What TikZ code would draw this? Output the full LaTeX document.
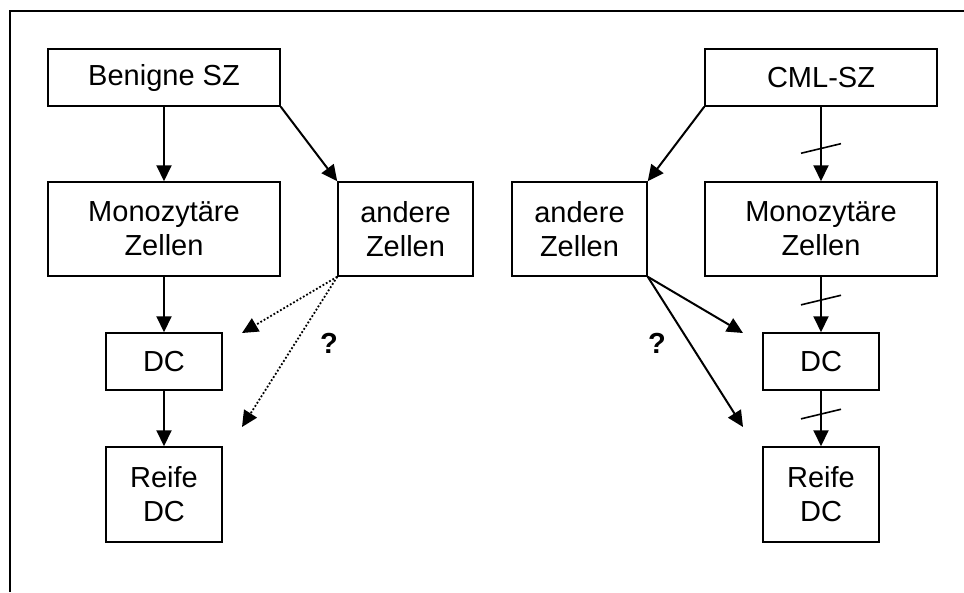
\documentclass[tikz,border=0pt]{standalone}
\usepackage{fontspec}
\setmainfont{Liberation Sans}
\usetikzlibrary{arrows.meta,calc}
\begin{document}
\begin{tikzpicture}[x=1pt,y=-1pt,
  box/.style={draw,line width=1.5pt,align=center,inner sep=0pt,
    font=\fontsize{29}{34}\selectfont},
  arr/.style={line width=2pt,-{Triangle[length=16pt,width=15pt]}},
  dotarr/.style={line width=1.8pt,dash pattern=on 1.8pt off 2pt,-{Triangle[length=16pt,width=15pt]}},
  tickmark/.style={line width=1.6pt},
  qmark/.style={font=\fontsize{29}{34}\selectfont\bfseries}]
\useasboundingbox (0,0) rectangle (964,592);
\draw[line width=2pt] (10,592) -- (10,11) -- (964,11);
% left side
\node[box,minimum width=232pt,minimum height=57pt] (b1) at (164,77.5) {Benigne SZ};
\node[box,minimum width=232pt,minimum height=94pt] (m1) at (164,229) {Monozytäre\\Zellen};
\node[box,minimum width=135pt,minimum height=94pt] (a1) at (405.5,229) {andere\\Zellen};
\node[box,minimum width=116pt,minimum height=57pt] (d1) at (164,361.5) {DC};
\node[box,minimum width=116pt,minimum height=95pt] (r1) at (164,494.5) {Reife\\DC};
\coordinate (e1) at (242,333);
\coordinate (e2) at (242,427);
\draw[arr] (b1) -- (m1);
\draw[arr] (b1.south east) -- (a1.north west);
\draw[arr] (m1) -- (d1);
\draw[arr] (d1) -- (r1);
\draw[dotarr] (a1.south west) -- (e1);
\draw[dotarr] (a1.south west) -- (e2);
\node[qmark] (q1) at (329,343) {?};
% right side
\node[box,minimum width=232pt,minimum height=57pt] (c2) at (821,77.5) {CML-SZ};
\node[box,minimum width=135pt,minimum height=94pt] (a2) at (579.5,229) {andere\\Zellen};
\node[box,minimum width=232pt,minimum height=94pt] (m2) at (821,229) {Monozytäre\\Zellen};
\node[box,minimum width=116pt,minimum height=57pt] (d2) at (821,361.5) {DC};
\node[box,minimum width=116pt,minimum height=95pt] (r2) at (821,494.5) {Reife\\DC};
\coordinate (f1) at (743,333);
\coordinate (f2) at (743,427);
\draw[arr] (c2.south west) -- (a2.north east);
\draw[arr] (c2) -- coordinate[pos=0.56] (t1) (m2);
\draw[arr] (m2) -- coordinate[pos=0.42] (t2) (d2);
\draw[arr] (d2) -- coordinate[pos=0.42] (t3) (r2);
\foreach \t in {t1,t2,t3}{
  \draw[tickmark] ($(\t)+(-20,4.8)$) -- ($(\t)+(20,-4.8)$);
}
\draw[arr] (a2.south east) -- (f1);
\draw[arr] (a2.south east) -- (f2);
\node[qmark] (q2) at (657,343) {?};
\end{tikzpicture}
\end{document}
